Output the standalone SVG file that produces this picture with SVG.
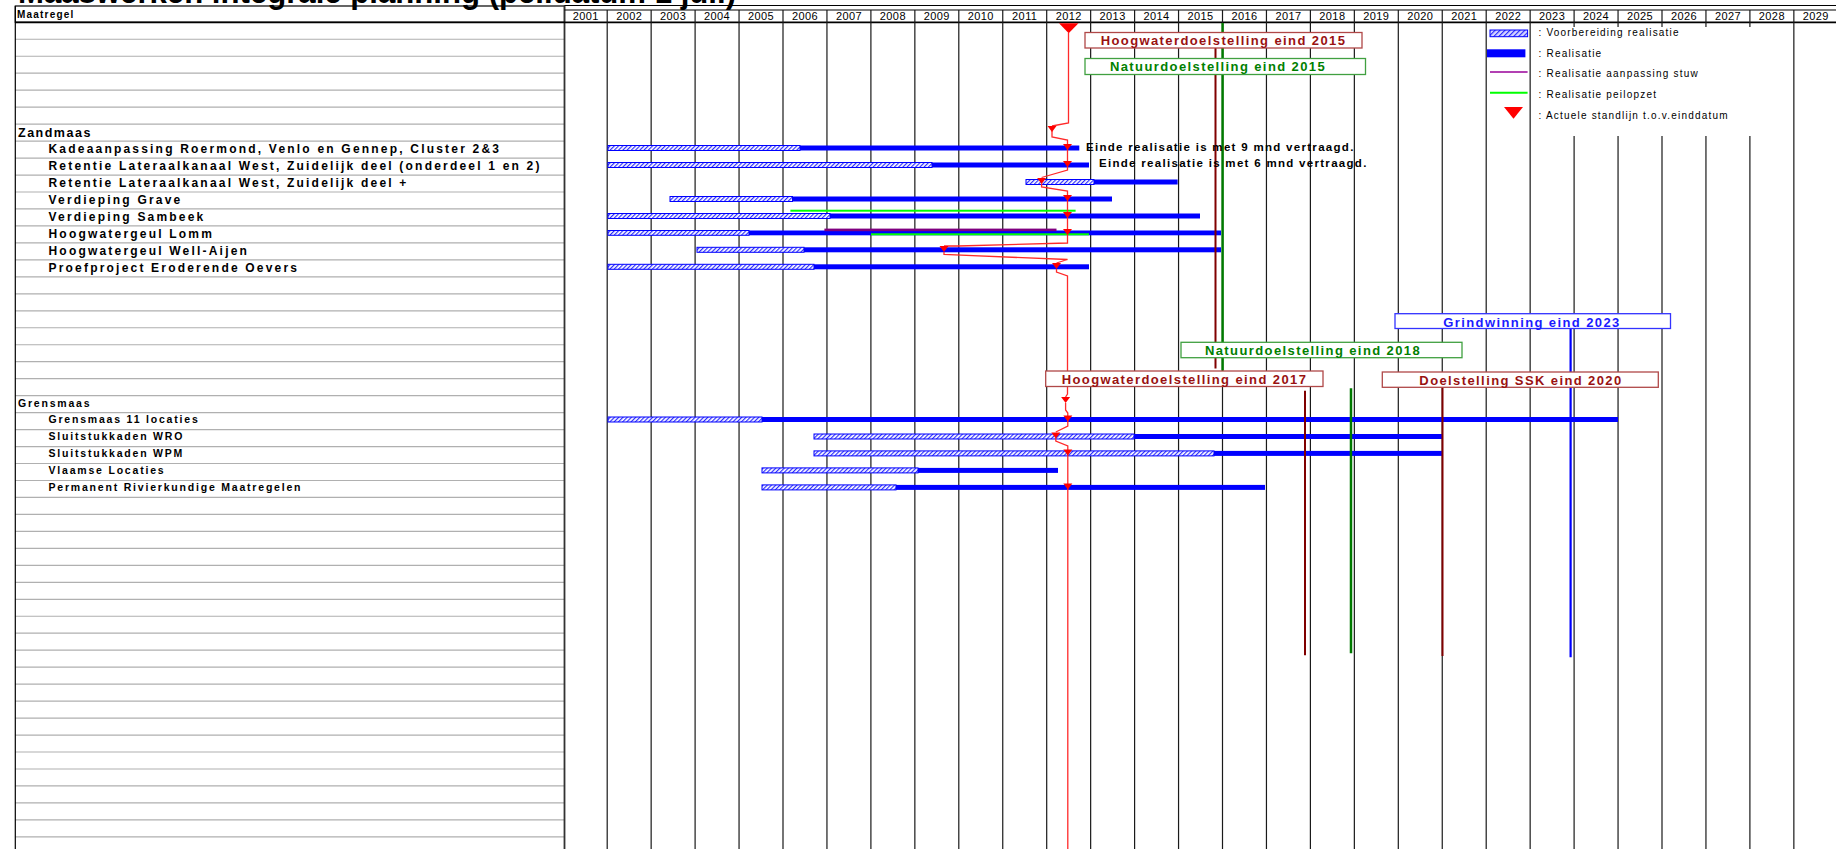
<svg xmlns="http://www.w3.org/2000/svg" width="1836" height="849" viewBox="0 0 1836 849">
<defs>
<pattern id="hatch" width="3" height="3" patternUnits="userSpaceOnUse" patternTransform="rotate(45)">
<rect width="3" height="3" fill="#ffffff"/><rect width="1.2" height="3" fill="#2b2bff"/>
</pattern>
<pattern id="hatchL" width="3.5" height="3.5" patternUnits="userSpaceOnUse" patternTransform="rotate(45)">
<rect width="3.5" height="3.5" fill="#d8d8ff"/><rect width="1.2" height="3.5" fill="#3030ff"/>
</pattern>
</defs>
<style>
text{font-family:"Liberation Sans",Arial,sans-serif;fill:#000}
.title{font-size:34px;font-weight:bold}
.hd{font-size:10px;font-weight:bold;letter-spacing:1.2px}
.yr{font-size:11px;text-anchor:middle;letter-spacing:0.4px}
.sec{font-size:12.5px;font-weight:bold;letter-spacing:1.5px}
.lab{font-size:12px;font-weight:bold;letter-spacing:2.2px}
.sec2{font-size:10.5px;font-weight:bold;letter-spacing:1.8px}
.lab2{font-size:10.5px;font-weight:bold;letter-spacing:1.8px}
.rowl{fill:none;stroke:#b0b0b0;stroke-width:1.2}
.bord{fill:none;stroke:#000;stroke-width:1.2}
.grid{fill:none;stroke:#1a1a1a;stroke-width:1.2}
.prep{fill:url(#hatch);stroke:#0000ff;stroke-width:1}
.real{fill:#0000ff}
.peil{fill:#00ff00}
.stuw{fill:#800080}
.leg{font-size:10px;letter-spacing:1.2px}
.box{fill:#ffffff;stroke-width:1.3}
.bR{stroke:#b04848}
.bG{stroke:#40a040}
.bB{stroke:#3333ff}
.mst{font-size:13px;font-weight:bold;letter-spacing:1.4px;text-anchor:middle}
.tR{fill:#991111}
.tG{fill:#008000}
.tB{fill:#1a1aff}
.note{font-size:11.5px;font-weight:bold;letter-spacing:1.3px}
.tri{fill:#ff0000}
.stand{fill:none;stroke:#ff2a2a;stroke-width:1.3}
.mlR{stroke:#800000;stroke-width:2}
.mlG{stroke:#007a00;stroke-width:2.5}
.mlB{stroke:#0000ff;stroke-width:2.2}
</style>
<rect x="0" y="0" width="1836" height="849" fill="#ffffff"/>

<text class="title" x="18" y="3.2" textLength="718" lengthAdjust="spacingAndGlyphs">Maaswerken integrale planning (peildatum 1 juli)</text>

<g id="panel">
<path class="rowl" d="M15,39.27H565M15,56.24H565M15,73.21H565M15,90.18H565M15,107.15H565M15,124.12H565M15,141.09H565M15,158.06H565M15,175.03H565M15,192H565M15,208.97H565M15,225.94H565M15,242.91H565M15,259.88H565M15,276.85H565M15,293.82H565M15,310.79H565M15,327.76H565M15,344.73H565M15,361.7H565M15,378.67H565M15,395.64H565M15,412.61H565M15,429.58H565M15,446.55H565M15,463.52H565M15,480.49H565M15,497.46H565M15,514.43H565M15,531.4H565M15,548.37H565M15,565.34H565M15,582.31H565M15,599.28H565M15,616.25H565M15,633.22H565M15,650.19H565M15,667.16H565M15,684.13H565M15,701.1H565M15,718.07H565M15,735.04H565M15,752.01H565M15,768.98H565M15,785.95H565M15,802.92H565M15,819.89H565M15,836.86H565"/>
<rect class="bord" x="15.3" y="6" width="549.2" height="16.3"/>
<path class="bord" d="M15.3,6V849"/>
<path fill="none" stroke="#333" stroke-width="1.8" d="M564.5,5.5V849"/>
<text class="hd" x="17" y="18">Maatregel</text>
<text class="sec" x="18" y="137.3">Zandmaas</text>
<text class="lab" x="48.5" y="153.3">Kadeaanpassing Roermond, Venlo en Gennep, Cluster 2&amp;3</text>
<text class="lab" x="48.5" y="170.3">Retentie Lateraalkanaal West, Zuidelijk deel (onderdeel 1 en 2)</text>
<text class="lab" x="48.5" y="187.2">Retentie Lateraalkanaal West, Zuidelijk deel +</text>
<text class="lab" x="48.5" y="204.2">Verdieping Grave</text>
<text class="lab" x="48.5" y="221.2">Verdieping Sambeek</text>
<text class="lab" x="48.5" y="238.1">Hoogwatergeul Lomm</text>
<text class="lab" x="48.5" y="255.1">Hoogwatergeul Well-Aijen</text>
<text class="lab" x="48.5" y="272.1">Proefproject Eroderende Oevers</text>
<text class="sec2" x="18" y="406.6">Grensmaas</text>
<text class="lab2" x="48.5" y="423.3">Grensmaas 11 locaties</text>
<text class="lab2" x="48.5" y="440.3">Sluitstukkaden WRO</text>
<text class="lab2" x="48.5" y="457.3">Sluitstukkaden WPM</text>
<text class="lab2" x="48.5" y="474.2">Vlaamse Locaties</text>
<text class="lab2" x="48.5" y="491.2">Permanent Rivierkundige Maatregelen</text>
</g>

<g id="timeline-header">
<path class="bord" d="M564.5,5.5H1836M564.5,10H1836"/>
<path fill="none" stroke="#000" stroke-width="1.8" d="M15,22.3H1836"/>
<path class="grid" d="M607.2,10V849M651.15,10V849M695.1,10V849M739.05,10V849M783,10V849M826.95,10V849M870.9,10V849M914.85,10V849M958.8,10V849M1002.75,10V849M1046.7,10V849M1090.65,10V849M1134.6,10V849M1178.55,10V849M1222.5,10V849M1266.45,10V849M1310.4,10V849M1354.35,10V849M1398.3,10V849M1442.25,10V849M1486.2,10V849M1530.15,10V849M1793.85,10V849M1574.1,10V27M1574.1,136V849M1618.05,10V27M1618.05,136V849M1662,10V27M1662,136V849M1705.95,10V27M1705.95,136V849M1749.9,10V27M1749.9,136V849"/>
<text class="yr" x="585.85" y="20.3">2001</text>
<text class="yr" x="629.18" y="20.3">2002</text>
<text class="yr" x="673.13" y="20.3">2003</text>
<text class="yr" x="717.08" y="20.3">2004</text>
<text class="yr" x="761.03" y="20.3">2005</text>
<text class="yr" x="804.98" y="20.3">2006</text>
<text class="yr" x="848.93" y="20.3">2007</text>
<text class="yr" x="892.88" y="20.3">2008</text>
<text class="yr" x="936.83" y="20.3">2009</text>
<text class="yr" x="980.78" y="20.3">2010</text>
<text class="yr" x="1024.73" y="20.3">2011</text>
<text class="yr" x="1068.68" y="20.3">2012</text>
<text class="yr" x="1112.63" y="20.3">2013</text>
<text class="yr" x="1156.58" y="20.3">2014</text>
<text class="yr" x="1200.53" y="20.3">2015</text>
<text class="yr" x="1244.48" y="20.3">2016</text>
<text class="yr" x="1288.43" y="20.3">2017</text>
<text class="yr" x="1332.38" y="20.3">2018</text>
<text class="yr" x="1376.33" y="20.3">2019</text>
<text class="yr" x="1420.28" y="20.3">2020</text>
<text class="yr" x="1464.23" y="20.3">2021</text>
<text class="yr" x="1508.18" y="20.3">2022</text>
<text class="yr" x="1552.13" y="20.3">2023</text>
<text class="yr" x="1596.08" y="20.3">2024</text>
<text class="yr" x="1640.03" y="20.3">2025</text>
<text class="yr" x="1683.98" y="20.3">2026</text>
<text class="yr" x="1727.93" y="20.3">2027</text>
<text class="yr" x="1771.88" y="20.3">2028</text>
<text class="yr" x="1815.83" y="20.3">2029</text>
</g>

<g id="legend">
<rect x="1490" y="30" width="37.6" height="6.7" fill="url(#hatchL)" stroke="#0000ff" stroke-width="1"/>
<text class="leg" x="1538.5" y="36">: Voorbereiding realisatie</text>
<rect x="1487" y="49.3" width="38.4" height="8" class="real"/>
<text class="leg" x="1538.5" y="57">: Realisatie</text>
<path d="M1490,72H1527.6" stroke="#990099" stroke-width="1.3"/>
<text class="leg" x="1538.5" y="77">: Realisatie aanpassing stuw</text>
<path d="M1490,92.7H1527.6" stroke="#00ff00" stroke-width="2"/>
<text class="leg" x="1538.5" y="98">: Realisatie peilopzet</text>
<polygon class="tri" points="1504,107 1523,107 1513.5,118.7"/>
<text class="leg" x="1538.5" y="119">: Actuele standlijn t.o.v.einddatum</text>
</g>

<g id="task-kadeaanpassing"><rect class="prep" x="608" y="145.5" width="192" height="5"/><rect class="real" x="800" y="145.5" width="279.3" height="5"/></g>
<g id="task-retentie-1-2"><rect class="prep" x="608" y="162.5" width="324" height="5"/><rect class="real" x="932" y="162.5" width="157" height="5"/></g>
<g id="task-retentie-plus"><rect class="prep" x="1026" y="179.5" width="68" height="5"/><rect class="real" x="1094" y="179.5" width="83.6" height="5"/></g>
<g id="task-grave"><rect class="prep" x="670" y="196.5" width="122.5" height="5"/><rect class="real" x="792.5" y="196.5" width="319.5" height="5"/></g>
<g id="task-sambeek"><rect class="prep" x="608" y="213.5" width="222" height="5"/><rect class="real" x="830" y="213.5" width="370" height="5"/><rect class="peil" x="790.4" y="209.7" width="285.2" height="2"/></g>
<g id="task-lomm"><rect class="prep" x="608" y="230.5" width="141" height="4.8"/><rect class="real" x="749" y="230.5" width="472" height="4.8"/><rect class="stuw" x="824.4" y="228.6" width="232.1" height="2.6"/><rect class="peil" x="871" y="233.3" width="218" height="2"/></g>
<g id="task-well-aijen"><rect class="prep" x="697" y="247.3" width="107" height="5"/><rect class="real" x="804" y="247.3" width="417" height="5"/></g>
<g id="task-proefproject"><rect class="prep" x="608" y="264.3" width="206" height="5"/><rect class="real" x="814" y="264.3" width="275" height="5"/></g>
<g id="task-grensmaas-11"><rect class="prep" x="608" y="417" width="154" height="5"/><rect class="real" x="762" y="417" width="856" height="5"/></g>
<g id="task-wro"><rect class="prep" x="814" y="434" width="320" height="5"/><rect class="real" x="1134" y="434" width="308.7" height="5"/></g>
<g id="task-wpm"><rect class="prep" x="814" y="450.9" width="400" height="5"/><rect class="real" x="1214" y="450.9" width="228.7" height="5"/></g>
<g id="task-vlaamse"><rect class="prep" x="762" y="467.9" width="156" height="5"/><rect class="real" x="918" y="467.9" width="140" height="5"/></g>
<g id="task-permanent"><rect class="prep" x="762" y="484.9" width="134" height="5"/><rect class="real" x="896" y="484.9" width="369" height="5"/></g>

<g id="connectors">
<path class="stand" d="M1068.5,33V123L1052,126M1052,131V137L1067.5,140V170L1041.6,177.5M1041.6,183.5V187L1067.5,191V243L958,246H944M944,252V254.5L1067.5,259.5L1056.5,263M1056.5,269V272L1067.5,276V394L1065.6,397M1065.6,403V410L1067.8,413V426L1055.8,432M1055.8,438V441L1067.8,446V849"/>
<polygon class="tri" points="1059,23.3 1078.5,23.3 1068.7,33.3"/>
<polygon class="tri" points="1047.5,126 1056.5,126 1052,132"/>
<polygon class="tri" points="1063,144 1072,144 1067.5,150"/>
<polygon class="tri" points="1063,161 1072,161 1067.5,167"/>
<polygon class="tri" points="1037.1,178 1046.1,178 1041.6,184"/>
<polygon class="tri" points="1063,195 1072,195 1067.5,201"/>
<polygon class="tri" points="1063,212 1072,212 1067.5,218"/>
<polygon class="tri" points="1063,229 1072,229 1067.5,235"/>
<polygon class="tri" points="939.5,246 948.5,246 944,252"/>
<polygon class="tri" points="1052,263 1061,263 1056.5,269"/>
<polygon class="tri" points="1061.1,397 1070.1,397 1065.6,403"/>
<polygon class="tri" points="1063.3,415.5 1072.3,415.5 1067.8,421.5"/>
<polygon class="tri" points="1051.3,432.5 1060.3,432.5 1055.8,438.5"/>
<polygon class="tri" points="1063.3,449.4 1072.3,449.4 1067.8,455.4"/>
<polygon class="tri" points="1063.3,483.4 1072.3,483.4 1067.8,489.4"/>
<path class="mlR" d="M1215.5,48V368.5"/>
<path class="mlG" d="M1222.6,23V370.7"/>
<path class="mlB" d="M1570.6,328.5V657.3"/>
<path class="mlG" d="M1351,388.3V653.3"/>
<path class="mlR" d="M1305,390.7V655.3"/>
<path class="mlR" d="M1442.5,387.3V656"/>
</g>

<g id="ms-hoogwater-2015"><rect class="box bR" x="1085" y="32.5" width="277" height="15.5"/><text class="mst tR" x="1223.5" y="45">Hoogwaterdoelstelling eind 2015</text></g>
<g id="ms-natuur-2015"><rect class="box bG" x="1085" y="58.5" width="280.5" height="16"/><text class="mst tG" x="1218" y="71">Natuurdoelstelling eind 2015</text></g>
<g id="ms-grindwinning-2023"><rect class="box bB" x="1395" y="313.7" width="275.5" height="14.8"/><text class="mst tB" x="1532" y="326.5">Grindwinning eind 2023</text></g>
<g id="ms-natuur-2018"><rect class="box bG" x="1181" y="342.3" width="281" height="15.4"/><text class="mst tG" x="1313" y="355.3">Natuurdoelstelling eind 2018</text></g>
<g id="ms-hoogwater-2017"><rect class="box bR" x="1045.7" y="371" width="277.3" height="15.5"/><text class="mst tR" x="1184.5" y="384">Hoogwaterdoelstelling eind 2017</text></g>
<g id="ms-ssk-2020"><rect class="box bR" x="1382.3" y="372" width="276" height="15.3"/><text class="mst tR" x="1521" y="385">Doelstelling SSK eind 2020</text></g>

<g id="notes">
<text class="note" x="1086" y="150.5">Einde realisatie is met 9 mnd vertraagd.</text>
<text class="note" x="1099" y="167.3">Einde realisatie is met 6 mnd vertraagd.</text>
</g>
</svg>
